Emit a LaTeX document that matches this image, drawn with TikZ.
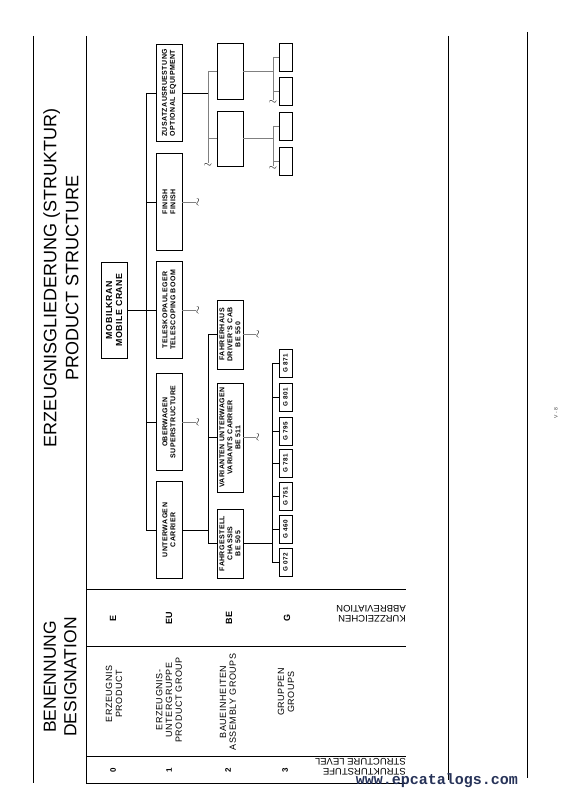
\documentclass[tikz,border=0pt]{standalone}
\usepackage{fontspec}
\setmainfont{Liberation Sans}
\setmonofont{Liberation Mono}
\newfontfamily\spacedfont[LetterSpace=6]{Liberation Sans}
\usepackage{tikz}
\usetikzlibrary{positioning, calc}
\definecolor{linegrey}{RGB}{128, 128, 128}
\definecolor{markblue}{RGB}{38, 50, 88}

\tikzset{
  box/.style={draw, line width=0.9pt, rotate=90, inner sep=1pt, align=center, font=\spacedfont\fontsize{7}{8}\selectfont\bfseries},
  lvlone/.style={box, minimum width=97pt, minimum height=26pt},
  gbox/.style={box, minimum width=28pt, minimum height=13pt, font=\spacedfont\fontsize{6.3}{7}\selectfont\bfseries},
  conn/.style={line width=0.9pt},
  greyconn/.style={line width=0.9pt, draw=linegrey},
  brk/.style={inner sep=0pt, font=\fontsize{11}{11}\selectfont},
  rule/.style={line width=1pt},
  tabtext/.style={rotate=90, align=center, font=\spacedfont\fontsize{9}{9.8}\selectfont},
  flipped/.style={rotate=180, anchor=west, align=left, inner sep=0pt, font=\fontsize{9.5}{10}\selectfont}
}

\begin{document}
\begin{tikzpicture}[x=1pt, y=-1pt]
  \useasboundingbox (0,0) rectangle (568,797);

  % page rules
  \draw[rule] (33,36) -- (33,783);
  \draw[rule] (86,36) -- (86,783);
  \draw[rule] (448,36) -- (448,780);
  \draw[rule] (527,32) -- (527,778);
  \draw[rule] (86,589) -- (406,589);
  \draw[rule] (86,646) -- (406,646);
  \draw[rule] (86,756) -- (406,756);
  \draw[rule] (86,783) -- (406,783);

  % headings
  \node[rotate=90, align=center, font=\fontsize{18}{22}\selectfont] (title) at (61,278)
    {ERZEUGNISGLIEDERUNG (STRUKTUR)\\PRODUCT STRUCTURE};
  \node[rotate=90, align=center, font=\fontsize{17.5}{20.5}\selectfont] (designation) at (60,677)
    {BENENNUNG\\DESIGNATION};

  % table: designation, abbreviation, level
  \node[tabtext] (desE) at (114,694) {ERZEUGNIS\\PRODUCT};
  \node[tabtext] (desEU) at (169,700) {ERZEUGNIS-\\UNTERGRUPPE\\PRODUCT GROUP};
  \node[tabtext] (desBE) at (228,702) {BAUEINHEITEN\\ASSEMBLY GROUPS};
  \node[tabtext] (desG) at (286,692) {GRUPPEN\\GROUPS};

  \node[tabtext, font=\fontsize{9}{9}\selectfont\bfseries] (abbE) at (113,618) {E};
  \node[tabtext, font=\fontsize{9}{9}\selectfont\bfseries] (abbEU) at (169,618) {EU};
  \node[tabtext, font=\fontsize{9}{9}\selectfont\bfseries] (abbBE) at (229,618) {BE};
  \node[tabtext, font=\fontsize{9}{9}\selectfont\bfseries] (abbG) at (287,618) {G};
  \node[flipped] (abbrev) at (406,614) {KURZZEICHEN\\ABBREVIATION};

  \node[tabtext, font=\fontsize{8}{8}\selectfont\bfseries] (lvl0) at (113,770) {0};
  \node[tabtext, font=\fontsize{8}{8}\selectfont\bfseries] (lvl1) at (169,770) {1};
  \node[tabtext, font=\fontsize{8}{8}\selectfont\bfseries] (lvl2) at (228,770) {2};
  \node[tabtext, font=\fontsize{8}{8}\selectfont\bfseries] (lvl3) at (285,770) {3};
  \node[flipped] (level) at (406,767) {STRUKTURSTUFE\\STRUCTURE LEVEL};

  % product
  \node[box, minimum width=96pt, minimum height=26pt, font=\spacedfont\fontsize{8.8}{10}\selectfont\bfseries] (crane) at (114,310)
    {MOBILKRAN\\MOBILE CRANE};

  % product groups
  \node[lvlone] (optional) at (169,93) {ZUSATZAUSRUESTUNG\\OPTIONAL EQUIPMENT};
  \node[lvlone] (finish) at (169,202) {FINISH\\FINISH};
  \node[lvlone] (boom) at (169,310) {TELESKOPAULEGER\\TELESCOPING BOOM};
  \node[lvlone] (superstr) at (169,422) {OBERWAGEN\\SUPERSTRUCTURE};
  \node[lvlone] (carrier) at (169,530) {UNTERWAGEN\\CARRIER};

  \coordinate (busA) at (146,0);
  \draw[conn] (crane.south) -- (boom.north);
  \draw[conn] (busA |- optional) -- (busA |- carrier);
  \foreach \n in {optional, finish, boom, superstr, carrier}
    \draw[conn] (busA |- \n) -- (\n.north);

  % assembly groups
  \node[box, minimum width=56pt, minimum height=26pt] (optA) at (230,71) {};
  \node[box, minimum width=55pt, minimum height=26pt] (optB) at (230,138.5) {};
  \node[box, minimum width=69pt, minimum height=26pt] (cab) at (230,334.5) {FAHRERHAUS\\DRIVER'S CAB\\BE 550};
  \node[box, minimum width=109pt, minimum height=26pt] (variants) at (230,437.5) {VARIANTEN UNTERWAGEN\\VARIANTS CARRIER\\BE 511};
  \node[box, minimum width=69pt, minimum height=26pt] (chassis) at (230,543.5) {FAHRGESTELL\\CHASSIS\\BE 505};

  \coordinate (busB) at (208,0);
  \draw[conn] (carrier.south) -- (busB |- carrier.south);
  \draw[conn] (busB |- cab) -- (busB |- chassis);
  \foreach \n in {cab, variants, chassis}
    \draw[conn] (busB |- \n) -- (\n.north);

  \coordinate (busZ) at (208,0);
  \coordinate (endZ) at (208,163);
  \draw[conn] (optional.south) -- (busZ |- optional.south);
  \draw[greyconn] (busZ |- optA) -- (endZ);
  \draw[greyconn] (busZ |- optA) -- (optA.north);
  \draw[greyconn] (busZ |- optB) -- (optB.north);
  \node[brk, anchor=north] (brkZ) at (endZ) {$\sim$};

  % open ends
  \foreach \n in {finish, boom, superstr} {
    \draw[greyconn] (\n.south) -- ++(14,0) coordinate (end\n);
    \node[brk, rotate=90, anchor=north] (brk\n) at (end\n) {$\sim$};
  }
  \foreach \n in {cab, variants} {
    \draw[greyconn] (\n.south) -- ++(13,0) coordinate (end\n);
    \node[brk, rotate=90, anchor=north] (brk\n) at (end\n) {$\sim$};
  }

  % groups under optional equipment
  \node[gbox] (optA1) at (285.5,57) {};
  \node[gbox] (optA2) at (285.5,91) {};
  \node[gbox] (optB1) at (285.5,126) {};
  \node[gbox] (optB2) at (285.5,161.5) {};

  \coordinate (busS) at (273,0);
  \draw[greyconn] (optA.south) -- (busS |- optA.south);
  \draw[greyconn] (optB.south) -- (busS |- optB.south);
  \draw[greyconn] (busS |- optA1) -- (busS |- 0,100) coordinate (endA);
  \draw[greyconn] (busS |- optB1) -- (busS |- 0,166) coordinate (endB);
  \foreach \n in {optA1, optA2, optB1, optB2}
    \draw[greyconn] (busS |- \n) -- (\n.north);
  \node[brk, anchor=north] (brkA) at (endA) {$\sim$};
  \node[brk, anchor=north] (brkB) at (endB) {$\sim$};

  % groups
  \node[gbox] (g871) at (285.5,363.5) {G 871};
  \node[gbox] (g801) at (285.5,397) {G 801};
  \node[gbox] (g795) at (285.5,431) {G 795};
  \node[gbox] (g781) at (285.5,463.5) {G 781};
  \node[gbox] (g751) at (285.5,496) {G 751};
  \node[gbox] (g460) at (285.5,529) {G 460};
  \node[gbox] (g072) at (285.5,562) {G 072};

  \coordinate (busG) at (272,0);
  \draw[conn] (chassis.south) -- (busG |- chassis.south);
  \draw[conn] (busG |- g871) -- (busG |- g072);
  \foreach \n in {g871, g801, g795, g781, g751, g460, g072}
    \draw[conn] (busG |- \n) -- (\n.north);

  % page number and mark
  \node[rotate=90, font=\fontsize{5}{5}\selectfont, text=darkgray] (page) at (556,413) {V - 8};
  \node[font=\ttfamily\bfseries\fontsize{15}{15}\selectfont, text=markblue, inner sep=0pt] (mark) at (437,781) {www.epcatalogs.com};
\end{tikzpicture}
\end{document}
